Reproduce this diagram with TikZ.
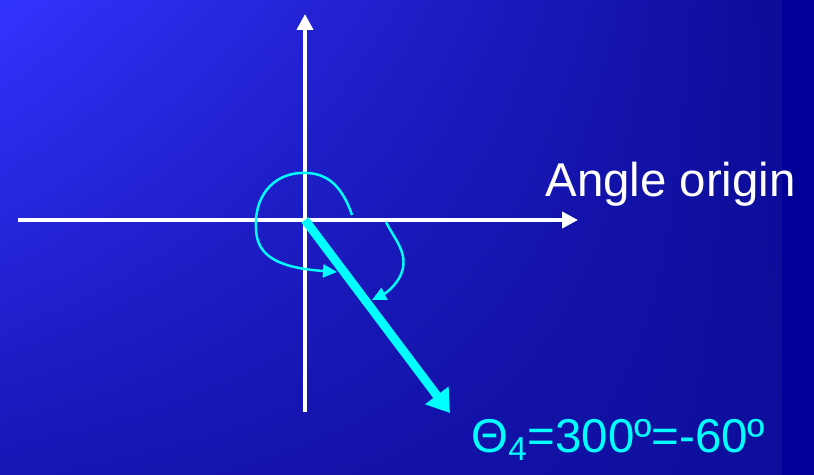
\documentclass[tikz,border=0pt]{standalone}
\usepackage{fontspec}
\setmainfont{Liberation Sans}
\usetikzlibrary{arrows.meta, shadings}
\definecolor{bgtl}{RGB}{51,51,255}
\definecolor{bgtr}{RGB}{12,12,152}
\definecolor{bgbl}{RGB}{22,22,180}
\definecolor{bgbr}{RGB}{14,14,156}
\definecolor{bgedge}{RGB}{0,0,153}
\definecolor{aqua}{RGB}{0,255,255}

\begin{document}
\begin{tikzpicture}[x=0.02cm, y=-0.02cm,
  axis/.style={white, line width=2.2pt, -{Triangle[length=0.32cm, width=0.32cm]}},
  vector/.style={aqua, line width=5pt, -{Triangle[length=0.44cm, width=0.56cm]}},
  turn/.style={aqua, line width=1.4pt, -{Triangle[length=0.28cm, width=0.26cm]}},
  every node/.style={font=\fontsize{27}{32}\selectfont, inner sep=0pt}]
% Background: slide gradient, darker strip on the right
\useasboundingbox (0,0) rectangle (814,475);
\shade[upper left=bgtl, upper right=bgtr, lower left=bgbl, lower right=bgbr] (0,0) rectangle (782,475);
\fill[bgedge] (782,0) rectangle (814,475);

% Axes
\coordinate (O) at (305,220);
\coordinate (xl) at (18,220);
\coordinate (xr) at (578,220);
\coordinate (yb) at (305,412);
\coordinate (yt) at (305,14);
\draw[axis] (xl) -- (xr);
\draw[axis] (yb) -- (yt);

% Angle vector
\coordinate (tip) at (450,413);
\draw[vector] (O) -- (tip);

% Turning arrows
\coordinate (loopstart) at (352,215);
\coordinate (loopend) at (337,272);
\draw[turn] (loopstart) .. controls (340,180) and (322,172) .. (301,173)
  .. controls (272,174) and (254,198) .. (256,228)
  .. controls (256,258) and (282,268) .. (loopend);
\coordinate (backstart) at (386,222);
\coordinate (backend) at (372,300);
\draw[turn] (backstart) .. controls (395,240) and (406,250) .. (403,268)
  .. controls (400,283) and (386,293) .. (backend);

% Labels
\node[anchor=base west, white] (origin) at (545,197) {Angle origin};
\node[anchor=base west, aqua] (theta) at (471,453) {Θ\textsubscript{4}=300º=-60º};
\end{tikzpicture}
\end{document}
